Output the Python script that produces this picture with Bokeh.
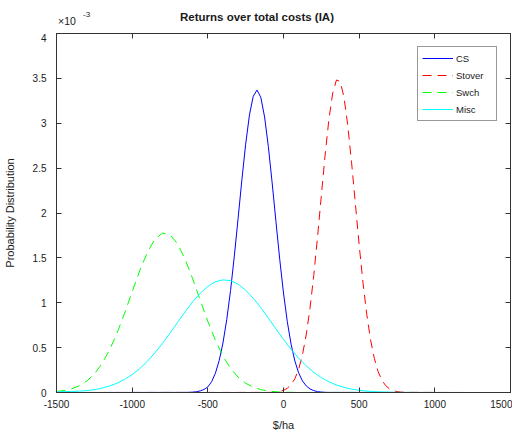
from bokeh.plotting import figure
from bokeh.models import Range1d, LinearAxis, FixedTicker, Div
from bokeh.layouts import column
from bokeh.embed import file_html
from bokeh.resources import INLINE

# ---- data (probability density, in units of 1e-3) ----
title_text = "Returns over total costs (IA)"
x_axis_title = "$/ha"
y_axis_title = "Probability Distribution"
y_scale_base = "\u00d710"
y_scale_exp = "-3"

x_ticks = [-1500, -1000, -500, 0, 500, 1000, 1500]
x_tick_labels = ["-1500", "-1000", "-500", "0", "500", "1000", "1500"]
y_ticks = [0, 0.5, 1, 1.5, 2, 2.5, 3, 3.5, 4]
y_tick_labels = ["0", "0.5", "1", "1.5", "2", "2.5", "3", "3.5", "4"]

series_names = ["CS", "Stover", "Swch", "Misc"]

cs_x = [-1500, -650, -625, -600, -575, -550, -525, -500, -475, -450, -425, -400,
        -375, -350, -325, -300, -275, -250, -225, -200, -175, -150, -125, -100,
        -75, -50, -25, 0, 25, 50, 75, 100, 125, 150, 175, 200, 225, 250, 275, 300, 1200]
cs_y = [0.0, 0.001, 0.002, 0.004, 0.009, 0.018, 0.034, 0.062, 0.120, 0.215, 0.356, 0.552,
        0.813, 1.136, 1.519, 1.940, 2.370, 2.767, 3.092, 3.301, 3.370, 3.289, 3.070, 2.739,
        2.336, 1.906, 1.486, 1.108, 0.790, 0.539, 0.351, 0.219, 0.130, 0.074, 0.040, 0.021,
        0.010, 0.005, 0.002, 0.001, 0.0]

stover_x = [-1500, -100, -75, -50, -25, 0, 25, 50, 75, 100, 125, 150, 175, 200, 225,
            250, 275, 300, 325, 350, 375, 400, 425, 450, 475, 500, 525, 550, 575, 600,
            625, 650, 675, 700, 725, 750, 775, 800, 825, 1200]
stover_y = [0.0, 0.001, 0.002, 0.005, 0.012, 0.024, 0.047, 0.087, 0.153, 0.259, 0.418,
            0.641, 0.937, 1.305, 1.734, 2.194, 2.647, 3.043, 3.334, 3.482, 3.465, 3.286,
            2.971, 2.559, 2.101, 1.644, 1.228, 0.872, 0.590, 0.381, 0.234, 0.137, 0.077,
            0.041, 0.021, 0.010, 0.005, 0.002, 0.001, 0.0]

swch_x = [-1500, -1450, -1400, -1350, -1300, -1250, -1200, -1150, -1100, -1050, -1000,
          -950, -900, -850, -800, -750, -700, -650, -600, -550, -500, -450, -400, -350,
          -300, -250, -200, -150, -100, -50, 0, 50, 100, 1200]
swch_y = [0.011, 0.022, 0.041, 0.074, 0.127, 0.206, 0.320, 0.472, 0.662, 0.884, 1.123,
          1.357, 1.560, 1.707, 1.776, 1.758, 1.656, 1.484, 1.266, 1.027, 0.793, 0.582,
          0.406, 0.270, 0.171, 0.103, 0.059, 0.032, 0.017, 0.008, 0.004, 0.002, 0.001, 0.0]

misc_x = [-1500, -1450, -1400, -1350, -1300, -1250, -1200, -1150, -1100, -1050, -1000,
          -950, -900, -850, -800, -750, -700, -650, -600, -550, -500, -450, -400, -350,
          -300, -250, -200, -150, -100, -50, 0, 50, 100, 150, 200, 250, 300, 350, 400,
          450, 500, 550, 600, 650, 700, 750, 800, 900, 1200]
misc_y = [0.008, 0.010, 0.012, 0.015, 0.021, 0.032, 0.049, 0.072, 0.104, 0.146, 0.199,
          0.266, 0.347, 0.441, 0.547, 0.662, 0.781, 0.899, 1.010, 1.106, 1.183, 1.234,
          1.255, 1.246, 1.207, 1.140, 1.051, 0.945, 0.829, 0.709, 0.592, 0.482, 0.383,
          0.297, 0.225, 0.166, 0.119, 0.084, 0.057, 0.038, 0.025, 0.016, 0.010, 0.006,
          0.004, 0.002, 0.001, 0.0005, 0.0]

FONT = "Liberation Sans"
AXIS_COLOR = "#333333"
TEXT_COLOR = "#1a1a1a"

p = figure(frame_width=454, frame_height=359, title=None,
           x_range=Range1d(-1500, 1500), y_range=Range1d(0, 4),
           output_backend="svg", toolbar_location=None,
           min_border_left=10, min_border_top=0, min_border_right=2, min_border_bottom=10,
           background_fill_color="white", border_fill_color="white")
p.grid.visible = False
p.outline_line_color = AXIS_COLOR

styles = [
    (cs_x, cs_y, "#0000ff", "solid"),
    (stover_x, stover_y, "#ff0000", "9 6"),
    (swch_x, swch_y, "#00ff00", "9 6"),
    (misc_x, misc_y, "#00ffff", "solid"),
]
for name, (xs, ys, col, dash) in zip(series_names, styles):
    p.line(xs, ys, line_color=col, line_width=1, line_dash=dash, legend_label=name)


def style_axis(ax, ticks, labels, show_labels=True):
    ax.ticker = FixedTicker(ticks=ticks)
    ax.major_label_overrides = {t: (l if show_labels else "") for t, l in zip(ticks, labels)}
    ax.minor_tick_line_color = None
    ax.major_tick_in = 5
    ax.major_tick_out = 0
    ax.axis_line_color = AXIS_COLOR
    ax.major_tick_line_color = AXIS_COLOR
    ax.major_label_text_font = FONT
    ax.major_label_text_font_size = "10px" if show_labels else "0px"
    ax.major_label_text_color = TEXT_COLOR
    ax.axis_label_text_font = FONT
    ax.axis_label_text_font_style = "normal"
    ax.axis_label_text_font_size = "11px"
    ax.axis_label_text_color = TEXT_COLOR


xa = p.xaxis[0]
ya = p.yaxis[0]
style_axis(xa, x_ticks, x_tick_labels)
style_axis(ya, y_ticks, y_tick_labels)
xa.axis_label = x_axis_title
ya.axis_label = y_axis_title
xa.major_label_standoff = 7
xa.axis_label_standoff = 8
ya.major_label_standoff = 10
ya.axis_label_standoff = 14

top = LinearAxis()
right = LinearAxis()
style_axis(top, x_ticks, x_tick_labels, show_labels=False)
style_axis(right, y_ticks, y_tick_labels, show_labels=False)
top.major_label_standoff = 0
right.major_label_standoff = 0
p.add_layout(top, "above")
p.add_layout(right, "right")

lg = p.legend[0]
lg.location = "top_right"
lg.margin = 13
lg.padding = 4
lg.spacing = 3
lg.glyph_width = 31
lg.glyph_height = 14
lg.label_height = 14
lg.label_width = 36
lg.label_standoff = 3
lg.label_text_font = FONT
lg.label_text_font_size = "9.5px"
lg.label_text_color = TEXT_COLOR
lg.border_line_color = AXIS_COLOR
lg.border_line_width = 1
lg.background_fill_color = "white"
lg.background_fill_alpha = 1.0

header_html = (
    f'<div style="position:relative;width:505px;height:33px;font-family:\'{FONT}\';'
    f'color:{TEXT_COLOR};line-height:normal;">'
    f'<span style="position:absolute;left:257px;top:11px;transform:translateX(-50%);'
    f'white-space:nowrap;font-weight:bold;font-size:11.5px;">{title_text}</span>'
    f'<span style="position:absolute;left:58px;top:15px;white-space:nowrap;'
    f'font-size:10.5px;">{y_scale_base}</span>'
    f'<span style="position:absolute;left:83px;top:10px;white-space:nowrap;'
    f'font-size:8px;">{y_scale_exp}</span>'
    '</div>'
)
header = Div(text=header_html, width=505, height=33, margin=(0, 0, 0, 0))

layout = column(header, p, spacing=0)

open("out.html", "w").write(file_html(layout, INLINE))
